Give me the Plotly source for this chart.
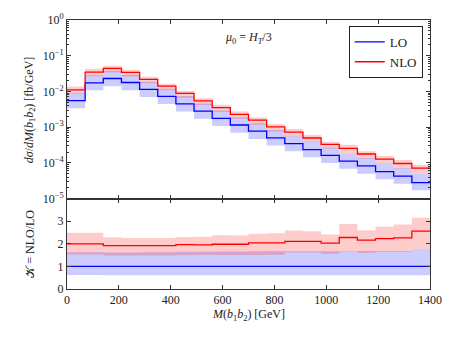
import plotly.graph_objects as go

# bin edges of M(b1 b2) in GeV (20 bins of 70 GeV)
edges = [0, 70, 140, 210, 280, 350, 420, 490, 560, 630, 700,
         770, 840, 910, 980, 1050, 1120, 1190, 1260, 1330, 1400]

# LO central values [fb/GeV]
lo = [5.5e-3, 1.74e-2, 2.3e-2, 1.78e-2, 1.14e-2, 7.3e-3, 4.5e-3, 2.8e-3, 1.77e-3, 1.15e-3,
      7.7e-4, 5.0e-4, 3.45e-4, 2.36e-4, 1.62e-4, 1.12e-4, 8.2e-5, 5.7e-5, 4.25e-5, 2.8e-5]

# LO scale band relative to LO central
lo_down = [0.62, 0.62, 0.61, 0.61, 0.61, 0.61, 0.61, 0.61, 0.61, 0.61,
           0.61, 0.61, 0.61, 0.61, 0.61, 0.61, 0.61, 0.61, 0.61, 0.61]
lo_up = [1.63, 1.63, 1.62, 1.62, 1.63, 1.63, 1.65, 1.65, 1.66, 1.66,
         1.67, 1.67, 1.67, 1.67, 1.67, 1.67, 1.68, 1.68, 1.68, 1.78]

# K-factor NLO/LO: central, lower and upper edge of the NLO band
k = [2.0, 2.0, 1.92, 1.92, 1.92, 1.92, 1.96, 1.95, 1.98, 1.98,
     2.04, 2.04, 2.11, 2.11, 2.03, 2.28, 2.16, 2.23, 2.26, 2.56]
k_down = [1.53, 1.53, 1.48, 1.48, 1.48, 1.48, 1.49, 1.50, 1.50, 1.50,
          1.51, 1.52, 1.62, 1.62, 1.56, 1.65, 1.60, 1.65, 1.65, 1.78]
k_up = [2.49, 2.49, 2.29, 2.26, 2.26, 2.26, 2.30, 2.31, 2.38, 2.37,
        2.44, 2.47, 2.59, 2.56, 2.41, 2.88, 2.60, 2.75, 2.85, 3.15]

top_ticks = [1e-5, 1e-4, 1e-3, 1e-2, 1e-1, 1e0]
top_ticktext = ['10<sup>−5</sup>', '10<sup>−4</sup>', '10<sup>−3</sup>',
                '10<sup>−2</sup>', '10<sup>−1</sup>', '10<sup>0</sup>']

BLUE = '#0000ff'
RED = '#ff0000'
BLUE_FILL = 'rgba(0,0,255,0.2)'
RED_FILL = 'rgba(255,0,0,0.2)'
FONT = 'Liberation Serif'


def step(vals):
    return list(vals) + [vals[-1]]


def band(xaxis, yaxis, low, high, fill):
    return [
        go.Scatter(x=edges, y=step(low), mode='lines', line=dict(width=0, shape='hv'),
                   showlegend=False, hoverinfo='skip', xaxis=xaxis, yaxis=yaxis),
        go.Scatter(x=edges, y=step(high), mode='lines', line=dict(width=0, shape='hv'),
                   fill='tonexty', fillcolor=fill, showlegend=False, hoverinfo='skip',
                   xaxis=xaxis, yaxis=yaxis),
    ]


nlo = [l * kk for l, kk in zip(lo, k)]
lo_lo = [l * d for l, d in zip(lo, lo_down)]
lo_hi = [l * u for l, u in zip(lo, lo_up)]
nlo_lo = [l * d for l, d in zip(lo, k_down)]
nlo_hi = [l * u for l, u in zip(lo, k_up)]

traces = []
# top panel
traces += band('x', 'y', lo_lo, lo_hi, BLUE_FILL)
traces += band('x', 'y', nlo_lo, nlo_hi, RED_FILL)
traces.append(go.Scatter(x=edges, y=step(lo), mode='lines', name='LO',
                         line=dict(color=BLUE, width=1.3, shape='hv'), xaxis='x', yaxis='y'))
traces.append(go.Scatter(x=edges, y=step(nlo), mode='lines', name='NLO',
                         line=dict(color=RED, width=1.3, shape='hv'), xaxis='x', yaxis='y'))
# ratio panel
traces += band('x2', 'y2', lo_down, lo_up, BLUE_FILL)
traces += band('x2', 'y2', k_down, k_up, RED_FILL)
traces.append(go.Scatter(x=edges, y=step([1.0] * len(lo)), mode='lines', showlegend=False,
                         line=dict(color=BLUE, width=1.3, shape='hv'), xaxis='x2', yaxis='y2'))
traces.append(go.Scatter(x=edges, y=step(k), mode='lines', showlegend=False,
                         line=dict(color=RED, width=1.3, shape='hv'), xaxis='x2', yaxis='y2'))

minor_log = []
for e in range(-5, 0):
    for m in range(2, 10):
        minor_log.append(m * 10 ** e)

axis_style = dict(showline=True, linecolor='#333333', linewidth=1, mirror='ticks',
                  ticks='inside', tickcolor='#333333', showgrid=False, zeroline=False,
                  tickfont=dict(family=FONT, size=12, color='#222222'))

fig = go.Figure(data=traces)
fig.update_layout(
    width=454, height=341,
    margin=dict(l=67, r=23, t=17, b=51.5),
    paper_bgcolor='white', plot_bgcolor='white',
    font=dict(family=FONT, size=12, color='#222222'),
    xaxis=dict(domain=[0, 1], range=[0, 1400], dtick=200, ticklen=4,
               showticklabels=False, anchor='y', **axis_style),
    yaxis=dict(domain=[0.336, 1], type='log', range=[-5, 0], tickvals=top_ticks,
               ticktext=top_ticktext, ticklen=4, anchor='x',
               minor=dict(tickvals=minor_log, ticks='inside', ticklen=2, tickcolor='#333333'),
               **axis_style),
    xaxis2=dict(domain=[0, 1], range=[0, 1400], dtick=200, ticklen=4, anchor='y2',
                **axis_style),
    yaxis2=dict(domain=[0, 0.336], range=[0, 4], tickvals=[0, 1, 2, 3], ticklen=4,
                anchor='x2', **axis_style),
    showlegend=True,
    legend=dict(x=0.98, y=0.978, xanchor='right', yanchor='top', traceorder='normal',
                bgcolor='white', bordercolor='#222222', borderwidth=1,
                font=dict(family=FONT, size=13, color='#222222'),
                itemwidth=30, tracegroupgap=0),
    annotations=[
        dict(text='<i>μ</i><sub>0</sub> = <i>H</i><sub><i>T</i></sub>/3', xref='paper',
             yref='paper', x=0.5, y=0.934, xanchor='center', yanchor='middle',
             showarrow=False, font=dict(family=FONT, size=12)),
        dict(text='<i>dσ</i>/<i>dM</i>(<i>b</i><sub>1</sub><i>b</i><sub>2</sub>) [fb/GeV]',
             xref='paper', yref='paper', x=-0.102, y=0.668, xanchor='center',
             yanchor='middle', textangle=-90, showarrow=False,
             font=dict(family=FONT, size=12)),
        dict(text='𝒦 = NLO/LO', xref='paper', yref='paper', x=-0.102, y=0.168,
             xanchor='center', yanchor='middle', textangle=-90, showarrow=False,
             font=dict(family=FONT, size=12)),
        dict(text='<i>M</i>(<i>b</i><sub>1</sub><i>b</i><sub>2</sub>) [GeV]', xref='paper',
             yref='paper', x=0.5, y=-0.097, xanchor='center', yanchor='middle',
             showarrow=False, font=dict(family=FONT, size=12)),
    ],
)

fig.write_html('out.html', config={'displayModeBar': False},
               post_script="document.body.style.margin='0';")
